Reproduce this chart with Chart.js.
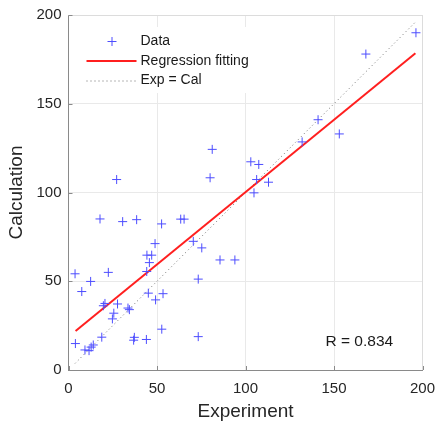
<!DOCTYPE html>
<html><head><meta charset="utf-8">
<script src="https://cdn.jsdelivr.net/npm/chart.js@4/dist/chart.umd.min.js"></script>
<style>html,body{margin:0;padding:0;background:#fff}</style>
</head><body>
<canvas id="c" width="435" height="421"></canvas>
<script>
// Experiment (x) and Calculation (y) values of the data points
const expX = [196.3,168,141,153,132,81.2,80,103,107.5,106.3,113,104.8,63.4,65.3,70.5,75.3,85.6,94,73.3,73.3,
  27.2,17.8,30.6,38.5,52.6,48.9,44.3,47,45.7,44.2,3.7,22.5,12.5,7.5,45.1,53.4,49.2,19.7,20.6,27.7,33.6,34.4,
  25.6,24.8,52.7,3.9,18.8,37.2,36.8,44,14,12.8,9.3,11.6];
const calY = [190,178,141,133,128.5,124.3,108.3,117.3,115.8,107.3,105.8,99.8,85,85,72.5,68.8,62,62,51.2,18.8,
  107.3,85.1,83.6,84.7,82.3,71.2,64.7,64.7,60.5,55.5,54.2,55,49.9,44.2,43.3,43,39.5,36.2,37.5,37.2,34.9,34,
  32,28.8,23,14.9,18.5,18.4,16.8,17.2,14.1,12.9,11.3,10.9];
// Regression fitting line end points
const fitX = [4, 196];
const fitY = [22, 178.5];
// Exp = Cal reference line end points
const refX = [3.7, 196.3];
const refY = [3.7, 196.3];
const xTicks = [0, 50, 100, 150, 200];
const yTicks = [0, 50, 100, 150, 200];
const seriesLabels = ['Data', 'Regression fitting', 'Exp = Cal'];
const rText = 'R = 0.834';
const xTitle = 'Experiment';
const yTitle = 'Calculation';

const FONT = "'Liberation Sans', Arial, sans-serif";
const ptColor = '#4d4dff';
const fitColor = '#ff1f1f';
const refColor = '#6e6e6e';
const toPts = (xs, ys) => xs.map((v, i) => ({x: v, y: ys[i]}));

const extras = {
  id: 'extras',
  beforeDatasetsDraw(chart) {
    const {ctx, chartArea: a, scales: {x, y}} = chart;
    ctx.save();
    ctx.strokeStyle = '#dcdcdc'; ctx.lineWidth = 1;
    ctx.beginPath();
    ctx.moveTo(a.left, Math.round(a.top) + 0.5); ctx.lineTo(a.right, Math.round(a.top) + 0.5);
    ctx.moveTo(Math.round(a.right) - 0.5, a.top); ctx.lineTo(Math.round(a.right) - 0.5, a.bottom);
    ctx.stroke();
    ctx.strokeStyle = '#8a8a8a';
    ctx.beginPath();
    xTicks.forEach(v => { const px = Math.round(x.getPixelForValue(v)) + 0.5; ctx.moveTo(px, a.bottom); ctx.lineTo(px, a.bottom - 4); });
    yTicks.forEach(v => { const py = Math.round(y.getPixelForValue(v)) + 0.5; ctx.moveTo(a.left, py); ctx.lineTo(a.left + 4, py); });
    ctx.stroke();
    ctx.restore();
  },
  afterDatasetsDraw(chart) {
    const {ctx, chartArea: a} = chart;
    ctx.save();
    // legend
    const lx = a.left + 12, ly = a.top + 12;
    ctx.fillStyle = '#fff';
    ctx.fillRect(lx, ly, 178, 66);
    const rows = [ly + 14.5, ly + 34, ly + 53.5];
    ctx.strokeStyle = ptColor; ctx.lineWidth = 1;
    ctx.beginPath();
    ctx.moveTo(lx + 27, rows[0]); ctx.lineTo(lx + 36, rows[0]);
    ctx.moveTo(lx + 31.5, rows[0] - 4.5); ctx.lineTo(lx + 31.5, rows[0] + 4.5);
    ctx.stroke();
    ctx.strokeStyle = fitColor; ctx.lineWidth = 2;
    ctx.beginPath(); ctx.moveTo(lx + 6, rows[1]); ctx.lineTo(lx + 56, rows[1]); ctx.stroke();
    ctx.strokeStyle = refColor; ctx.lineWidth = 1; ctx.setLineDash([1, 3]);
    ctx.beginPath(); ctx.moveTo(lx + 6, rows[2] + 0.5); ctx.lineTo(lx + 56, rows[2] + 0.5); ctx.stroke();
    ctx.setLineDash([]);
    ctx.fillStyle = '#1a1a1a';
    ctx.font = '14px ' + FONT;
    ctx.textBaseline = 'middle'; ctx.textAlign = 'left';
    seriesLabels.forEach((t, i) => ctx.fillText(t, lx + 60, rows[i]));
    // R value
    ctx.font = '15.5px ' + FONT;
    ctx.fillText(rText, a.left + 257, a.bottom - 28);
    ctx.restore();
  }
};

new Chart(document.getElementById('c'), {
  type: 'scatter',
  data: {
    datasets: [
      {label: seriesLabels[0], data: toPts(expX, calY), pointStyle: 'cross', pointRadius: 4.5, pointHoverRadius: 4.5,
        borderColor: ptColor, backgroundColor: ptColor, borderWidth: 1, showLine: false, order: 0},
      {label: seriesLabels[1], type: 'line', data: toPts(fitX, fitY), borderColor: fitColor, borderWidth: 2,
        pointRadius: 0, fill: false, order: 1},
      {label: seriesLabels[2], type: 'line', data: toPts(refX, refY), borderColor: refColor, borderWidth: 1,
        borderDash: [1, 3], pointRadius: 0, fill: false, order: 2}
    ]
  },
  options: {
    responsive: false,
    animation: false,
    events: [],
    layout: {padding: {top: 15, right: 12.5, left: 0, bottom: 0}},
    plugins: {legend: {display: false}, tooltip: {enabled: false}},
    scales: {
      x: {
        type: 'linear', min: 0, max: 200,
        afterFit: s => { s.height = 51; s.paddingLeft = 0; s.paddingRight = 0; },
        afterBuildTicks: s => { s.ticks = xTicks.map(v => ({value: v})); },
        grid: {color: '#e9e9e9', drawTicks: false},
        border: {display: true, color: '#8a8a8a', width: 1},
        ticks: {font: {family: FONT, size: 15}, color: '#262626', padding: 10, maxRotation: 0, minRotation: 0},
        title: {display: true, text: xTitle, font: {family: FONT, size: 19, lineHeight: 1}, color: '#262626', padding: {top: 0, bottom: 0}}
      },
      y: {
        type: 'linear', min: 0, max: 200,
        afterFit: s => { s.width = 68.5; s.paddingTop = 0; s.paddingBottom = 0; },
        afterBuildTicks: s => { s.ticks = yTicks.map(v => ({value: v})); },
        grid: {color: '#e9e9e9', drawTicks: false},
        border: {display: true, color: '#8a8a8a', width: 1},
        ticks: {font: {family: FONT, size: 15}, color: '#262626', padding: 7},
        title: {display: true, text: yTitle, font: {family: FONT, size: 19, lineHeight: 1}, color: '#262626', padding: {top: 7, bottom: 0}}
      }
    }
  },
  plugins: [extras]
});
</script>
</body></html>
